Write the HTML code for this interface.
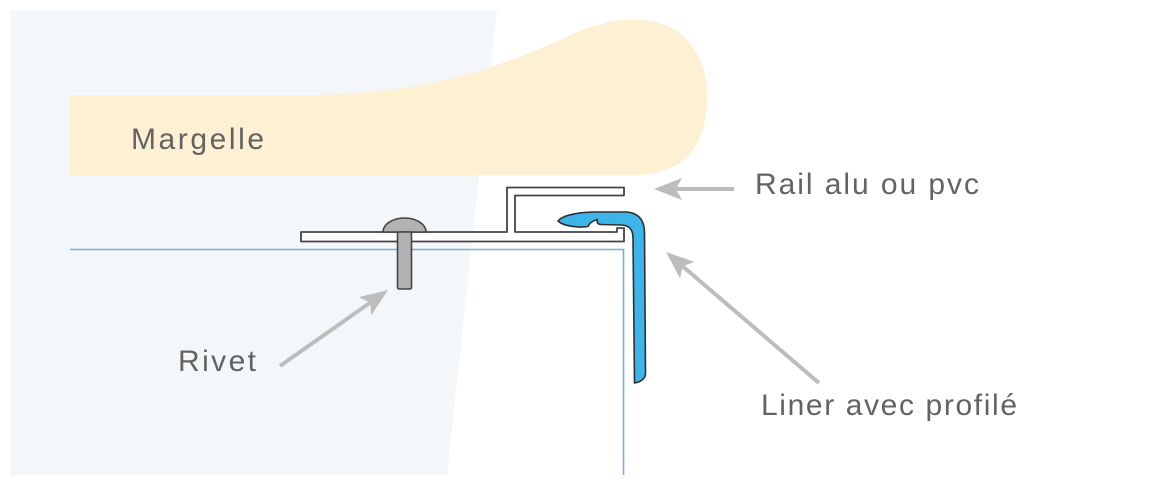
<!DOCTYPE html>
<html>
<head>
<meta charset="utf-8">
<style>
  html, body { margin: 0; padding: 0; background: #ffffff; }
  body { width: 1158px; height: 486px; overflow: hidden; }
  svg { display: block; }
  text { font-family: "Liberation Sans", "DejaVu Sans", sans-serif; font-size: 30px; fill: #636363; }
</style>
</head>
<body>
<svg width="1158" height="486" viewBox="0 0 1158 486" xmlns="http://www.w3.org/2000/svg">
  <!-- background panel -->
  <polygon points="10,10 497,10 447,475 10,475" fill="#f4f7f9"/>

  <!-- Margelle -->
  <path d="M70 95 L300 95 C 400 95, 470 80, 560 40 C 600 20, 640 12, 672 28 C 700 45, 708 75, 707 100 C 706 140, 690 172, 640 175 L 70 175 Z" fill="#fdf0d3"/>
  <text x="131" y="149" textLength="133" lengthAdjust="spacing">Margelle</text>

  <!-- blue pool wall line -->
  <polyline points="70,249.5 623.5,249.5 623.5,475" fill="none" stroke="#79aee0" stroke-width="1.6"/>

  <!-- rail profile -->
  <path d="M301 232 L507 232 L507 187.5 L624 187.5 L624 195.5 L515 195.5 L515 232 L617 232 L617 228 L624 228 L624 241.5 L301 241.5 Z"
        fill="#ffffff" stroke="#444444" stroke-width="1.8" stroke-linejoin="round"/>

  <!-- rivet -->
  <path d="M383 232 A 21.5 14 0 0 1 426 232 Z" fill="#b2b2b2" stroke="#444444" stroke-width="1.6"/>
  <rect x="397.5" y="232" width="14" height="57" rx="1.5" fill="#b2b2b2" stroke="#444444" stroke-width="1.6"/>

  <!-- liner profile (blue) -->
  <path d="M558 221 C 562 216, 575 212.5, 592 212 L 626 212 Q 644 213, 644.5 232 L 645.5 374 Q 645 381, 634.5 383 L 633 238 Q 633 225, 621 225 L 601 224.5 Q 596 224, 597.5 219.5 Q 590 221.5, 588 226.5 C 578 228, 563 226, 558 221 Z"
        fill="#3db5ea" stroke="#2f2f2f" stroke-width="1.6" stroke-linejoin="round"/>

  <!-- arrows -->
  <g fill="#bdbdbd" stroke="#bdbdbd">
    <!-- Rail arrow -->
    <line x1="734" y1="189" x2="676" y2="189" stroke-width="4"/>
    <path d="M0 0 L-28 -11 L-22 0 L-28 11 Z" stroke="none" transform="translate(654,189) rotate(180)"/>
    <!-- Rivet arrow -->
    <line x1="280" y1="366" x2="370" y2="302.7" stroke-width="4"/>
    <path d="M0 0 L-28 -11 L-22 0 L-28 11 Z" stroke="none" transform="translate(388,290) rotate(-35.1)"/>
    <!-- Liner arrow -->
    <line x1="819" y1="383" x2="682.7" y2="266.3" stroke-width="4"/>
    <path d="M0 0 L-28 -11 L-22 0 L-28 11 Z" stroke="none" transform="translate(666,252) rotate(220.6)"/>
  </g>

  <!-- labels -->
  <text x="755" y="194" textLength="224" lengthAdjust="spacing">Rail alu ou pvc</text>
  <text x="178" y="371" textLength="78" lengthAdjust="spacing">Rivet</text>
  <text x="761" y="415" textLength="256" lengthAdjust="spacing">Liner avec profilé</text>
</svg>
</body>
</html>
